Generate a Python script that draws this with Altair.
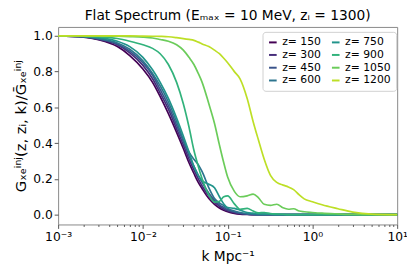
import altair as alt
import pandas as pd

# shared k grid (Mpc^-1)
K = [0.001, 0.002, 0.003, 0.005, 0.007, 0.01, 0.013, 0.016, 0.02, 0.025, 0.03, 0.035,
     0.04, 0.045, 0.05, 0.06, 0.07, 0.08, 0.09, 0.1, 0.12, 0.14, 0.17, 0.2, 0.23, 0.27,
     0.32, 0.38, 0.45, 0.52, 0.6, 0.7, 0.8, 1.0, 1.3, 2.0, 3.0, 5.0, 10.0]

Z_LABELS = ["150", "300", "450", "600", "750", "900", "1050", "1200"]

G150 = [1.0, 0.993, 0.978, 0.94, 0.89, 0.815, 0.74, 0.66, 0.565, 0.46, 0.37, 0.29,
        0.23, 0.18, 0.145, 0.09, 0.058, 0.037, 0.024, 0.016, 0.007, 0.003, 0.001, 0.0, 0.0, 0.0,
        0.0, 0.0, 0.0, 0.0, 0.0, 0.0, 0.0, 0.0, 0.0, 0.0, 0.0, 0.0, 0.0]
G300 = [1.0, 0.994, 0.98, 0.95, 0.905, 0.835, 0.76, 0.68, 0.59, 0.48, 0.39, 0.31,
        0.25, 0.2, 0.16, 0.105, 0.07, 0.047, 0.032, 0.022, 0.011, 0.005, 0.002, 0.0, 0.0, 0.0,
        0.0, 0.0, 0.0, 0.0, 0.0, 0.0, 0.0, 0.0, 0.0, 0.0, 0.0, 0.0, 0.0]
G450 = [1.0, 0.995, 0.983, 0.955, 0.915, 0.85, 0.78, 0.7, 0.61, 0.5, 0.41, 0.33,
        0.27, 0.22, 0.18, 0.12, 0.08, 0.055, 0.04, 0.028, 0.015, 0.008, 0.003, 0.001, 0.0, 0.0,
        0.0, 0.0, 0.0, 0.0, 0.0, 0.0, 0.0, 0.0, 0.0, 0.0, 0.0, 0.0, 0.0]
G600 = [1.0, 0.995, 0.985, 0.96, 0.925, 0.86, 0.79, 0.72, 0.63, 0.52, 0.42, 0.35,
        0.31, 0.28, 0.24, 0.15, 0.09, 0.065, 0.05, 0.035, 0.02, 0.012, 0.006, 0.003, 0.0, 0.0,
        0.0, 0.0, 0.0, 0.0, 0.0, 0.0, 0.0, 0.0, 0.0, 0.0, 0.0, 0.0, 0.0]
G750 = [1.0, 0.997, 0.99, 0.97, 0.94, 0.88, 0.81, 0.74, 0.65, 0.54, 0.44, 0.35,
        0.27, 0.22, 0.19, 0.17, 0.15, 0.1, 0.06, 0.04, 0.035, 0.025, 0.012, 0.008, 0.005, 0.003,
        0.002, 0.0, 0.0, 0.0, 0.0, 0.0, 0.0, 0.0, 0.0, 0.0, 0.0, 0.0, 0.0]
G900 = [1.0, 0.998, 0.995, 0.985, 0.97, 0.95, 0.93, 0.9, 0.84, 0.74, 0.62, 0.49,
        0.36, 0.27, 0.2, 0.11, 0.07, 0.075, 0.1, 0.105, 0.06, 0.03, 0.035, 0.02, 0.01, 0.012,
        0.006, 0.004, 0.002, 0.0, 0.0, 0.0, 0.0, 0.0, 0.0, 0.0, 0.0, 0.0, 0.0]
G1050 = [1.0, 1.0, 1.0, 0.998, 0.996, 0.993, 0.988, 0.98, 0.97, 0.95, 0.92, 0.88,
         0.84, 0.79, 0.74, 0.62, 0.51, 0.39, 0.29, 0.21, 0.13, 0.1, 0.105, 0.115, 0.095, 0.058,
         0.052, 0.058, 0.038, 0.03, 0.033, 0.02, 0.016, 0.012, 0.008, 0.004, 0.001, 0.0, 0.0]
G1200 = [1.0, 1.0, 1.0, 1.0, 1.0, 0.999, 0.998, 0.997, 0.995, 0.99, 0.985, 0.98,
         0.975, 0.965, 0.955, 0.94, 0.92, 0.9, 0.875, 0.85, 0.8, 0.76, 0.65, 0.52, 0.42, 0.31,
         0.22, 0.18, 0.165, 0.155, 0.14, 0.11, 0.088, 0.072, 0.055, 0.033, 0.014, 0.003, 0.0]

SERIES = [G150, G300, G450, G600, G750, G900, G1050, G1200]
COLORS = ["#440154", "#462d7a", "#3a538a", "#2c748e", "#21948b", "#31b27b", "#6bcc5a", "#bddf26"]

rows = []
for i, (z, vals) in enumerate(zip(Z_LABELS, SERIES)):
    for k, g in zip(K, vals):
        rows.append({"k": k, "G": g, "z": z, "idx": i})
df = pd.DataFrame(rows)

FONT = "DejaVu Sans"
MAJOR = "abs(log(datum.value)/LN10 - round(log(datum.value)/LN10)) < 0.01"
EXP = "round(log(datum.value)/LN10)"
label_expr = (
    f"!({MAJOR}) ? '' : ({EXP} == -3 ? '10⁻³' : {EXP} == -2 ? '10⁻²' : "
    f"{EXP} == -1 ? '10⁻¹' : {EXP} == 0 ? '10⁰' : '10¹')"
)
tick_vals = []
for e in [-3, -2, -1, 0]:
    for m in range(1, 10):
        tick_vals.append(m * 10 ** e)
tick_vals.append(10.0)

chart = alt.Chart(df).mark_line(strokeWidth=1.7, interpolate="monotone").encode(
    x=alt.X("k:Q",
            scale=alt.Scale(type="log", domain=[0.001, 10], nice=False),
            axis=alt.Axis(values=tick_vals, labelExpr=label_expr, title="k Mpc⁻¹",
                          tickSize={"condition": {"test": MAJOR, "value": 4}, "value": 2},
                          labelFontSize=12.5, titleFontSize=14, titlePadding=7,
                          grid=False, domain=False, labelFlush=False)),
    y=alt.Y("G:Q",
            scale=alt.Scale(domain=[-0.055, 1.05], nice=False, zero=False),
            axis=alt.Axis(values=[0, 0.2, 0.4, 0.6, 0.8, 1.0], format=".1f",
                          title="Gₓₑⁱⁿʲ(z, zᵢ, k)/Ḡₓₑⁱⁿʲ", tickSize=4,
                          labelFontSize=12.5, titleFontSize=15, titlePadding=4,
                          grid=False, domain=False)),
    color=alt.Color("z:N",
                    scale=alt.Scale(domain=Z_LABELS, range=COLORS),
                    legend=alt.Legend(title=None, orient="none", legendX=208, legendY=5,
                                      columns=2, symbolType="stroke", symbolStrokeWidth=2,
                                      symbolSize=60, labelFontSize=11, labelExpr="'z= ' + datum.label",
                                      fillColor="white", strokeColor="#d0d0d0", padding=5,
                                      cornerRadius=3, rowPadding=1, columnPadding=6)),
    order=alt.Order("idx:Q"),
).properties(
    width=345, height=201,
    title=alt.Title("Flat Spectrum (Eₘₐₓ = 10 MeV, zᵢ = 1300)", fontSize=14,
                    fontWeight="normal", font=FONT, anchor="middle", offset=4),
    autosize="none",
    padding={"left": 51, "top": 17, "right": 10, "bottom": 40},
).configure_view(
    stroke="#888888", strokeWidth=1
).configure_axis(
    labelFont=FONT, titleFont=FONT, labelColor="black", titleColor="black",
    tickColor="#555555", titleFontWeight="normal"
).configure_legend(
    labelFont=FONT, labelColor="black"
)

chart.save("out.html", embed_options={"renderer": "svg", "actions": False})
